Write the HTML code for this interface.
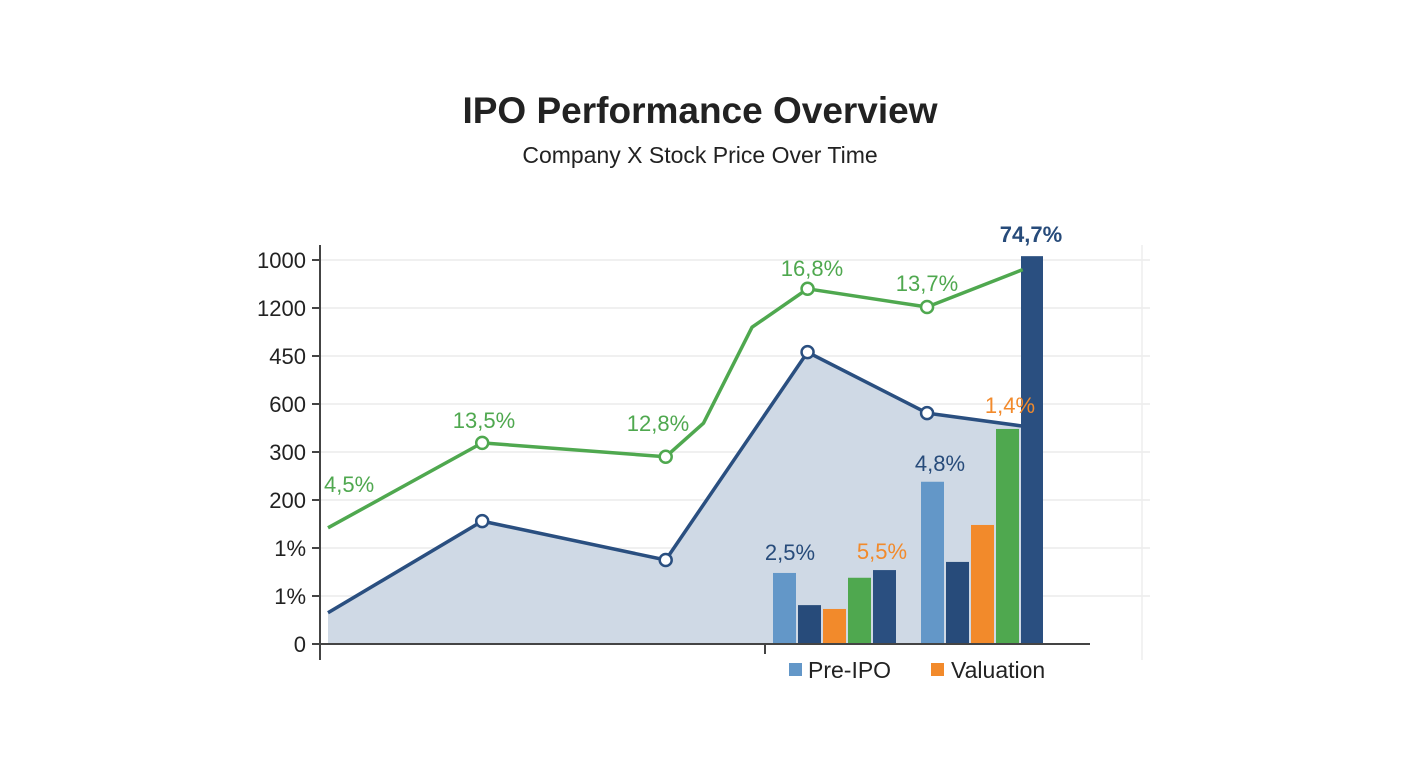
<!DOCTYPE html>
<html><head><meta charset="utf-8"><style>
body{margin:0;background:#fff;font-family:"Liberation Sans",sans-serif;}
svg{display:block}
</style></head><body>
<svg width="1408" height="768" id="chart">
<text x="700" y="123" text-anchor="middle" font-size="37" font-weight="bold" fill="#222">IPO Performance Overview</text>
<text x="700" y="163" text-anchor="middle" font-size="23" fill="#222">Company X Stock Price Over Time</text>
<g id="grid"></g>
<g id="area"></g>
<g id="bars"></g>
<g id="lines"></g>
<g id="labels"></g>
<g id="axes"></g>
<g>
<rect x="789" y="663" width="13" height="13" fill="#6397c8"/>
<text x="808" y="678" font-size="23" fill="#222">Pre-IPO</text>
<rect x="931" y="663" width="13" height="13" fill="#f28a2b"/>
<text x="951" y="678" font-size="23" fill="#222">Valuation</text>
</g>
</svg>
<script>
const tickLabels=["0","1%","1%","200","300","600","450","1200","1000"];
const greenT=[0,2,4.38,4.87,5.5,6.22,7.77,9.01];
const greenV=[2.42,4.19,3.9,4.6,6.6,7.4,7.02,7.8];
const greenMarkers=[1,2,5,6];
const blueT=[0,2,4.38,6.22,7.77,9.01];
const blueV=[0.65,2.56,1.75,6.08,4.81,4.54];
const blueMarkers=[1,2,3,4];
const barGroupStart=[773,921];
const barSeriesColors=["#6397c8","#274b7a","#f28a2b","#4fa84f","#2a4f80"];
const barG1=[1.48,0.81,0.73,1.38,1.54];
const barG2=[3.38,1.71,2.48,4.48,8.08];
const pointLabels=[
 {t:"4,5%",x:324,y:492,c:"#4fa84f",a:"start"},
 {t:"13,5%",x:484,y:428,c:"#4fa84f",a:"middle"},
 {t:"12,8%",x:658,y:431,c:"#4fa84f",a:"middle"},
 {t:"16,8%",x:812,y:276,c:"#4fa84f",a:"middle"},
 {t:"13,7%",x:927,y:291,c:"#4fa84f",a:"middle"},
 {t:"74,7%",x:1031,y:242,c:"#274b7a",a:"middle",b:1},
 {t:"1,4%",x:1010,y:413,c:"#f28a2b",a:"middle"},
 {t:"4,8%",x:940,y:471,c:"#274b7a",a:"middle"},
 {t:"2,5%",x:790,y:560,c:"#274b7a",a:"middle"},
 {t:"5,5%",x:882,y:559,c:"#f28a2b",a:"middle"}];
const NS="http://www.w3.org/2000/svg";
const X0=328,XU=77.1,Y0=644,YU=48;
const xs=t=>X0+t*XU, ys=v=>Y0-v*YU;
function mk(tag,attrs,parent){const e=document.createElementNS(NS,tag);for(const k in attrs)e.setAttribute(k,attrs[k]);document.getElementById(parent).appendChild(e);return e;}
tickLabels.forEach((lab,i)=>{
 const y=ys(i);
 if(i>0){const g=mk('line',{x1:320,x2:1150,y1:y,y2:y,stroke:'#ececec','stroke-width':1.5},'grid');
 
 }
 const tk=mk('line',{x1:312,x2:320,y1:y,y2:y,stroke:'#444','stroke-width':2},'axes');
 
 
 const t=mk('text',{x:306,y:y+8,'text-anchor':'end','font-size':22,fill:'#222'},'axes');t.textContent=lab;
 
 
});
const vg=mk('line',{x1:1142,x2:1142,y1:245,y2:660,stroke:'#eee','stroke-width':1.5},'grid');


const ya=mk('line',{x1:320,x2:320,y1:245,y2:660,stroke:'#444','stroke-width':2},'axes');


const xa=mk('line',{x1:320,x2:1090,y1:644,y2:644,stroke:'#444','stroke-width':2},'axes');


const xt=mk('line',{x1:765,x2:765,y1:644,y2:654,stroke:'#444','stroke-width':2},'axes');


let ad=`M${xs(blueT[0])},${Y0} `+blueT.map((t,i)=>`L${xs(t)},${ys(blueV[i])}`).join(' ')+` L${xs(blueT[blueT.length-1])},${Y0} Z`;
const ar=mk('path',{d:ad,fill:'#cfd9e5'},'area');


[barG1,barG2].forEach((g,gi)=>{
 g.forEach((v,si)=>{
  const w=(gi===1&&si===4)?22:23;
  const r=mk('rect',{x:barGroupStart[gi]+si*25,y:ys(v),width:w,height:v*YU,fill:barSeriesColors[si]},'bars');
  
  
 });
});
function line(T,V,col,markers,name){
 const p=mk('polyline',{points:T.map((t,i)=>xs(t)+','+ys(V[i])).join(' '),fill:'none',stroke:col,'stroke-width':3.5,'stroke-linejoin':'round'},'lines');
 
 
 markers.forEach(i=>{
  const c=mk('circle',{cx:xs(T[i]),cy:ys(V[i]),r:6,fill:'#fff',stroke:col,'stroke-width':2.5},'lines');
  
  
 });
}
line(greenT,greenV,'#4fa84f',greenMarkers,'green-line');
line(blueT,blueV,'#2a4f80',blueMarkers,'blue-line');
pointLabels.forEach(l=>{
 const t=mk('text',{x:l.x,y:l.y,'text-anchor':l.a,'font-size':22,fill:l.c,'font-weight':l.b?'bold':'normal'},'labels');
 t.textContent=l.t;
 
 
});
</script>
</body></html>
